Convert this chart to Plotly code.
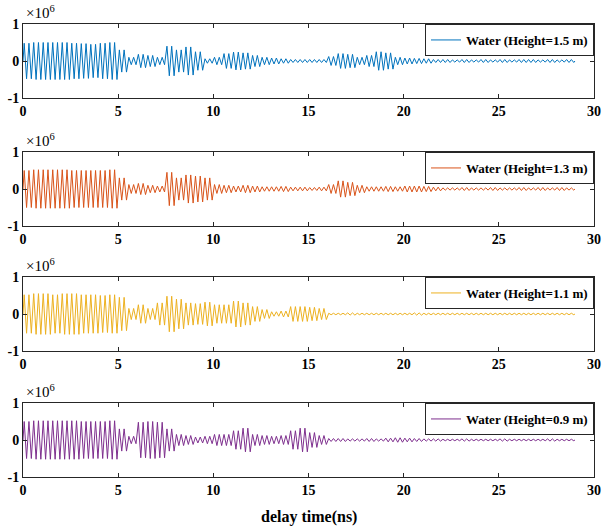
import plotly.graph_objects as go

# Envelope (peak amplitude, x1e6) of each 0.5 ns block from 0 to 29 ns
block_ns = 0.5
env_15 = [0.48, 0.5, 0.5, 0.5, 0.5, 0.48, 0.47, 0.45, 0.48, 0.5,
          0.3, 0.1, 0.18, 0.15, 0.1, 0.4, 0.3, 0.38, 0.25, 0.06,
          0.1, 0.2, 0.24, 0.22, 0.15, 0.1, 0.08, 0.06, 0.04, 0.04,
          0.04, 0.04, 0.12, 0.2, 0.18, 0.1, 0.15, 0.25, 0.22, 0.1,
          0.08, 0.07, 0.06, 0.04,
          0.04, 0.03, 0.04, 0.03, 0.04, 0.03, 0.04, 0.03, 0.04, 0.04, 0.03, 0.04, 0.03, 0.04]
env_13 = [0.5, 0.52, 0.52, 0.52, 0.52, 0.5, 0.5, 0.5, 0.5, 0.52,
          0.3, 0.12, 0.15, 0.1, 0.08, 0.45, 0.3, 0.38, 0.35, 0.3,
          0.12, 0.1, 0.08, 0.1, 0.08, 0.06, 0.06, 0.07, 0.05, 0.05,
          0.04, 0.05, 0.12, 0.22, 0.18, 0.1, 0.06, 0.06, 0.07, 0.06,
          0.08, 0.08, 0.07, 0.05,
          0.03, 0.03, 0.04, 0.03, 0.03, 0.04, 0.03, 0.03, 0.04, 0.03, 0.04, 0.03, 0.04, 0.03]
env_11 = [0.52, 0.55, 0.55, 0.52, 0.55, 0.55, 0.52, 0.52, 0.5, 0.52,
          0.45, 0.15, 0.25, 0.15, 0.3, 0.48, 0.4, 0.3, 0.28, 0.32,
          0.25, 0.25, 0.35, 0.3, 0.2, 0.12, 0.06, 0.08, 0.2, 0.2,
          0.18, 0.15, 0.02, 0.02, 0.03, 0.02, 0.02, 0.02, 0.02, 0.02,
          0.02, 0.03, 0.02, 0.02,
          0.02, 0.02, 0.02, 0.02, 0.02, 0.02, 0.02, 0.02, 0.02, 0.02, 0.02, 0.02, 0.02, 0.02]
env_09 = [0.5, 0.52, 0.52, 0.52, 0.52, 0.52, 0.5, 0.5, 0.5, 0.52,
          0.3, 0.1, 0.48, 0.5, 0.48, 0.3, 0.15, 0.12, 0.08, 0.1,
          0.15, 0.15, 0.25, 0.32, 0.15, 0.12, 0.1, 0.12, 0.25, 0.32,
          0.2, 0.12, 0.04, 0.04, 0.03, 0.03, 0.04, 0.03, 0.05, 0.06,
          0.05, 0.04, 0.03, 0.03,
          0.02, 0.02, 0.03, 0.02, 0.02, 0.02, 0.03, 0.02, 0.02, 0.02, 0.02, 0.03, 0.02, 0.02]

series_names = ["Water (Height=1.5 m)", "Water (Height=1.3 m)",
                "Water (Height=1.1 m)", "Water (Height=0.9 m)"]
series_env = [env_15, env_13, env_11, env_09]
colors = ["#0072BD", "#D95319", "#EDB120", "#7E2F8E"]
x_ticks = [0, 5, 10, 15, 20, 25, 30]
y_ticks = [-1, 0, 1]
x_label = "delay time(ns)"

PEAKS_PER_BLOCK = 4  # half-cycles of the ~4 GHz carrier in each block


def waveform(env):
    xs, ys = [0.0], [0.0]
    step = block_ns / PEAKS_PER_BLOCK
    k = 0
    for i, a in enumerate(env):
        for j in range(PEAKS_PER_BLOCK):
            t = i * block_ns + (j + 0.5) * step
            xs.append(t)
            ys.append(a * 1e6 * (1 if k % 2 == 0 else -1))
            k += 1
    xs.append(len(env) * block_ns)
    ys.append(0.0)
    return xs, ys


W, H = 604, 531
x0, x1 = 23 / W, 594 / W
panels_px = [(24, 98), (152, 226), (277, 351), (403, 477)]

fig = go.Figure()
serif = "Liberation Serif, Times New Roman, serif"
layout = dict(
    width=W, height=H, margin=dict(l=0, r=0, t=0, b=0, autoexpand=False),
    paper_bgcolor="white", plot_bgcolor="white",
    font=dict(family=serif, size=13, color="black"),
    annotations=[], showlegend=True,
)

for i, (name, env, col) in enumerate(zip(series_names, series_env, colors)):
    xs, ys = waveform(env)
    n = "" if i == 0 else str(i + 1)
    leg = "legend" + n
    fig.add_trace(go.Scatter(x=xs, y=ys, mode="lines", name=name,
                             line=dict(color=col, width=1),
                             xaxis="x" + n, yaxis="y" + n, legend=leg))
    top, bot = panels_px[i]
    d0, d1 = 1 - bot / H, 1 - top / H
    ax_common = dict(showline=True, mirror="allticks", linecolor="#262626", linewidth=1,
                     ticks="inside", ticklen=4, tickcolor="#262626", showgrid=False,
                     zeroline=False, automargin=False,
                     tickfont=dict(family=serif, size=14, weight="bold"))
    layout["xaxis" + n] = dict(domain=[x0, x1], range=[0, 30], tickvals=x_ticks,
                               anchor="y" + n, **ax_common)
    layout["yaxis" + n] = dict(domain=[d0, d1], range=[-1e6, 1e6],
                               tickvals=[v * 1e6 for v in y_ticks],
                               ticktext=[str(v) for v in y_ticks],
                               anchor="x" + n, **ax_common)
    layout[leg] = dict(x=x1, y=d1, xanchor="right", yanchor="top",
                       bgcolor="white", bordercolor="#262626", borderwidth=1,
                       font=dict(family=serif, size=13, weight="bold"),
                       itemwidth=30, tracegroupgap=0)
    layout["annotations"].append(dict(
        text="×10<sup>6</sup>", xref="paper", yref="paper",
        x=24 / W, y=d1 + 1 / H, xanchor="left", yanchor="bottom", showarrow=False,
        font=dict(family=serif, size=15, color="black")))

layout["annotations"].append(dict(
    text=x_label, xref="paper", yref="paper", x=(x0 + x1) / 2, y=1 - 517 / H,
    xanchor="center", yanchor="middle", showarrow=False,
    font=dict(family=serif, size=16, weight="bold", color="black")))

fig.update_layout(**layout)
fig.write_html("out.html", config={"displayModeBar": False},
               post_script="document.body.style.margin='0px';document.body.style.overflow='hidden';")
